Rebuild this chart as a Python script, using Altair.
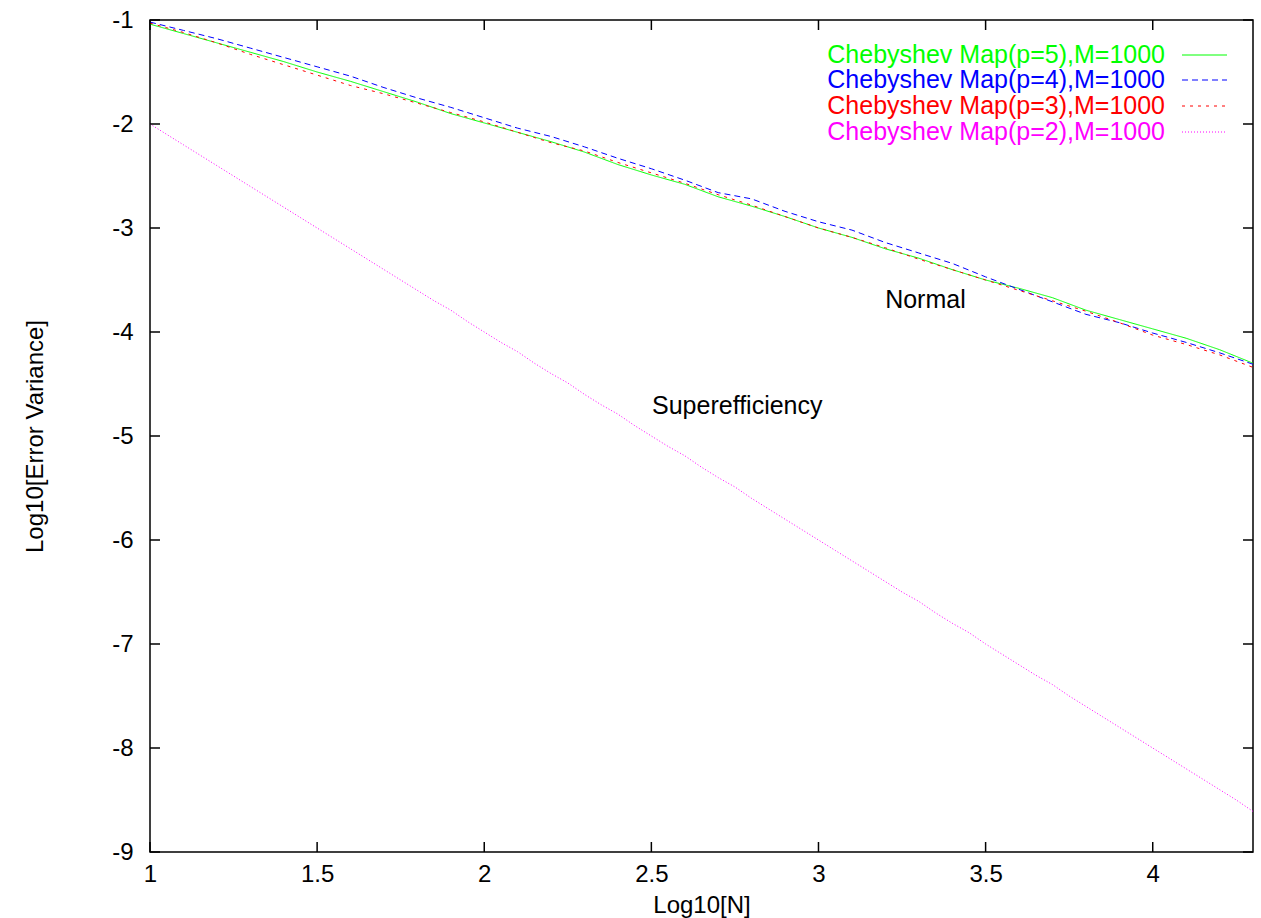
import altair as alt
import pandas as pd

FONT = "Liberation Sans"

x_normal = [1.0, 1.1, 1.2, 1.3, 1.4, 1.5, 1.6, 1.7, 1.8, 1.9, 2.0, 2.1, 2.2, 2.3, 2.4, 2.5,
            2.6, 2.7, 2.8, 2.9, 3.0, 3.1, 3.2, 3.3, 3.4, 3.5, 3.6, 3.7, 3.8, 3.9, 4.0, 4.1,
            4.2, 4.3]
y_p5 = [-1.04, -1.13, -1.22, -1.31, -1.40, -1.50, -1.59, -1.69, -1.79, -1.90, -1.99, -2.08,
        -2.17, -2.27, -2.39, -2.49, -2.58, -2.70, -2.79, -2.89, -3.00, -3.09, -3.20, -3.29,
        -3.40, -3.50, -3.58, -3.67, -3.79, -3.88, -3.97, -4.06, -4.17, -4.30]
y_p4 = [-1.02, -1.10, -1.18, -1.27, -1.36, -1.45, -1.54, -1.65, -1.75, -1.84, -1.94, -2.04,
        -2.12, -2.22, -2.33, -2.43, -2.54, -2.66, -2.72, -2.84, -2.94, -3.02, -3.14, -3.24,
        -3.34, -3.47, -3.59, -3.71, -3.83, -3.91, -4.01, -4.10, -4.20, -4.31]
y_p3 = [-1.03, -1.12, -1.22, -1.33, -1.43, -1.53, -1.63, -1.71, -1.80, -1.89, -1.98, -2.08,
        -2.18, -2.26, -2.37, -2.47, -2.57, -2.68, -2.78, -2.89, -3.00, -3.09, -3.19, -3.30,
        -3.40, -3.50, -3.60, -3.70, -3.80, -3.91, -4.03, -4.12, -4.22, -4.34]

x_super = [1.00, 1.05, 1.10, 1.15, 1.20, 1.25, 1.30, 1.35, 1.40, 1.45, 1.50, 1.55, 1.60,
           1.65, 1.70, 1.75, 1.80, 1.85, 1.90, 1.95, 2.00, 2.05, 2.10, 2.15, 2.20, 2.25,
           2.30, 2.35, 2.40, 2.45, 2.50, 2.55, 2.60, 2.65, 2.70, 2.75, 2.80, 2.85, 2.90,
           2.95, 3.00, 3.05, 3.10, 3.15, 3.20, 3.25, 3.30, 3.35, 3.40, 3.45, 3.50, 3.55,
           3.60, 3.65, 3.70, 3.75, 3.80, 3.85, 3.90, 3.95, 4.00, 4.05, 4.10, 4.15, 4.20,
           4.25, 4.30]
y_p2 = [-2.00, -2.10, -2.20, -2.30, -2.40, -2.50, -2.60, -2.70, -2.80, -2.90, -3.00, -3.10,
        -3.20, -3.30, -3.40, -3.50, -3.60, -3.70, -3.79, -3.90, -4.00, -4.10, -4.19, -4.30,
        -4.40, -4.49, -4.60, -4.70, -4.79, -4.90, -5.00, -5.10, -5.19, -5.30, -5.40, -5.49,
        -5.60, -5.70, -5.80, -5.90, -6.00, -6.10, -6.20, -6.30, -6.40, -6.50, -6.59, -6.70,
        -6.80, -6.89, -7.00, -7.10, -7.20, -7.30, -7.39, -7.50, -7.60, -7.70, -7.80, -7.90,
        -8.00, -8.10, -8.20, -8.30, -8.40, -8.50, -8.61]

legend_labels = ["Chebyshev Map(p=5),M=1000", "Chebyshev Map(p=4),M=1000",
                 "Chebyshev Map(p=3),M=1000", "Chebyshev Map(p=2),M=1000"]
colors = ["#00ff00", "#0000ff", "#ff0000", "#ff00ff"]
dashes = [[1, 0], [6, 4], [3, 5], [1, 2]]

x_ticks = [1, 1.5, 2, 2.5, 3, 3.5, 4]
y_ticks = [-1, -2, -3, -4, -5, -6, -7, -8, -9]

notes = ["Normal", "Superefficiency"]
note_x = [3.32, 2.757]
note_y = [-3.69, -4.71]

W, H = 1103, 832

xs = alt.Scale(domain=[1, 4.3], nice=False, zero=False)
ys = alt.Scale(domain=[-9, -1], nice=False, zero=False)

xaxis = alt.Axis(values=x_ticks, title="Log10[N]", grid=False, domain=False, ticks=False,
                 tickSize=0, labelPadding=10, labelFontSize=24, labelFont=FONT,
                 labelColor="black", labelFlush=False, labelOverlap=False,
                 labelExpr="'' + datum.value",
                 titleFontSize=24, titleFont=FONT, titleFontWeight="normal", titleColor="black",
                 titleY=53, titleBaseline="middle", titleX=W / 2)
yaxis = alt.Axis(values=y_ticks, title="Log10[Error Variance]", grid=False, domain=False,
                 ticks=False, tickSize=0, labelPadding=17, labelFontSize=24, labelFont=FONT,
                 labelColor="black", labelFlush=False, labelOverlap=False,
                 labelExpr="'-' + abs(datum.value)",
                 titleFontSize=24, titleFont=FONT, titleFontWeight="normal", titleColor="black",
                 titleX=-115, titleY=H / 2, titleAngle=270, titleBaseline="middle",
                 titleAlign="center")


def X(field="x"):
    return alt.X(f"{field}:Q", scale=xs, axis=xaxis, title="Log10[N]")


def Y(field="y"):
    return alt.Y(f"{field}:Q", scale=ys, axis=yaxis, title="Log10[Error Variance]")


series = [(x_normal, y_p5), (x_normal, y_p4), (x_normal, y_p3), (x_super, y_p2)]
layers = []
for i, (xv, yv) in enumerate(series):
    df = pd.DataFrame({"x": xv, "y": yv})
    layers.append(
        alt.Chart(df).mark_line(color=colors[i], strokeWidth=1, strokeDash=dashes[i])
        .encode(x=X(), y=Y())
    )

# inward ticks on all four sides
xt = pd.DataFrame({"x": x_ticks})
yt = pd.DataFrame({"y": y_ticks})
tick_style = dict(color="black", strokeWidth=1.5)
layers.append(alt.Chart(xt).mark_rule(**tick_style).encode(
    x=X(), y=alt.value(H), y2=alt.value(H - 10)))
layers.append(alt.Chart(xt).mark_rule(**tick_style).encode(
    x=X(), y=alt.value(0), y2=alt.value(10)))
layers.append(alt.Chart(yt).mark_rule(**tick_style).encode(
    y=Y(), x=alt.value(0), x2=alt.value(10)))
layers.append(alt.Chart(yt).mark_rule(**tick_style).encode(
    y=Y(), x=alt.value(W - 10), x2=alt.value(W)))

# annotations
ndf = pd.DataFrame({"t": notes, "x": note_x, "y": note_y})
layers.append(alt.Chart(ndf).mark_text(font=FONT, fontSize=25, color="black",
                                       align="center", baseline="middle").encode(
    x=X(), y=Y(), text="t:N"))

# manual legend (gnuplot style)
leg_y = [35, 60, 86, 112]
for i, lab in enumerate(legend_labels):
    ldf = pd.DataFrame({"t": [lab]})
    layers.append(alt.Chart(ldf).mark_text(font=FONT, fontSize=25, color=colors[i],
                                           align="right", baseline="middle").encode(
        x=alt.value(1015), y=alt.value(leg_y[i]), text="t:N"))
    layers.append(alt.Chart(ldf).mark_rule(color=colors[i], strokeWidth=1,
                                           strokeDash=dashes[i]).encode(
        x=alt.value(1032), x2=alt.value(1077), y=alt.value(leg_y[i])))

chart = alt.layer(*layers).properties(
    width=W, height=H,
    autosize=alt.AutoSizeParams(type="none"),
    padding={"left": 150, "top": 20, "right": 8, "bottom": 66},
    background="white",
).configure_view(stroke="black", strokeWidth=1.5)

chart.save("out.html", embed_options={"renderer": "svg", "actions": False})
